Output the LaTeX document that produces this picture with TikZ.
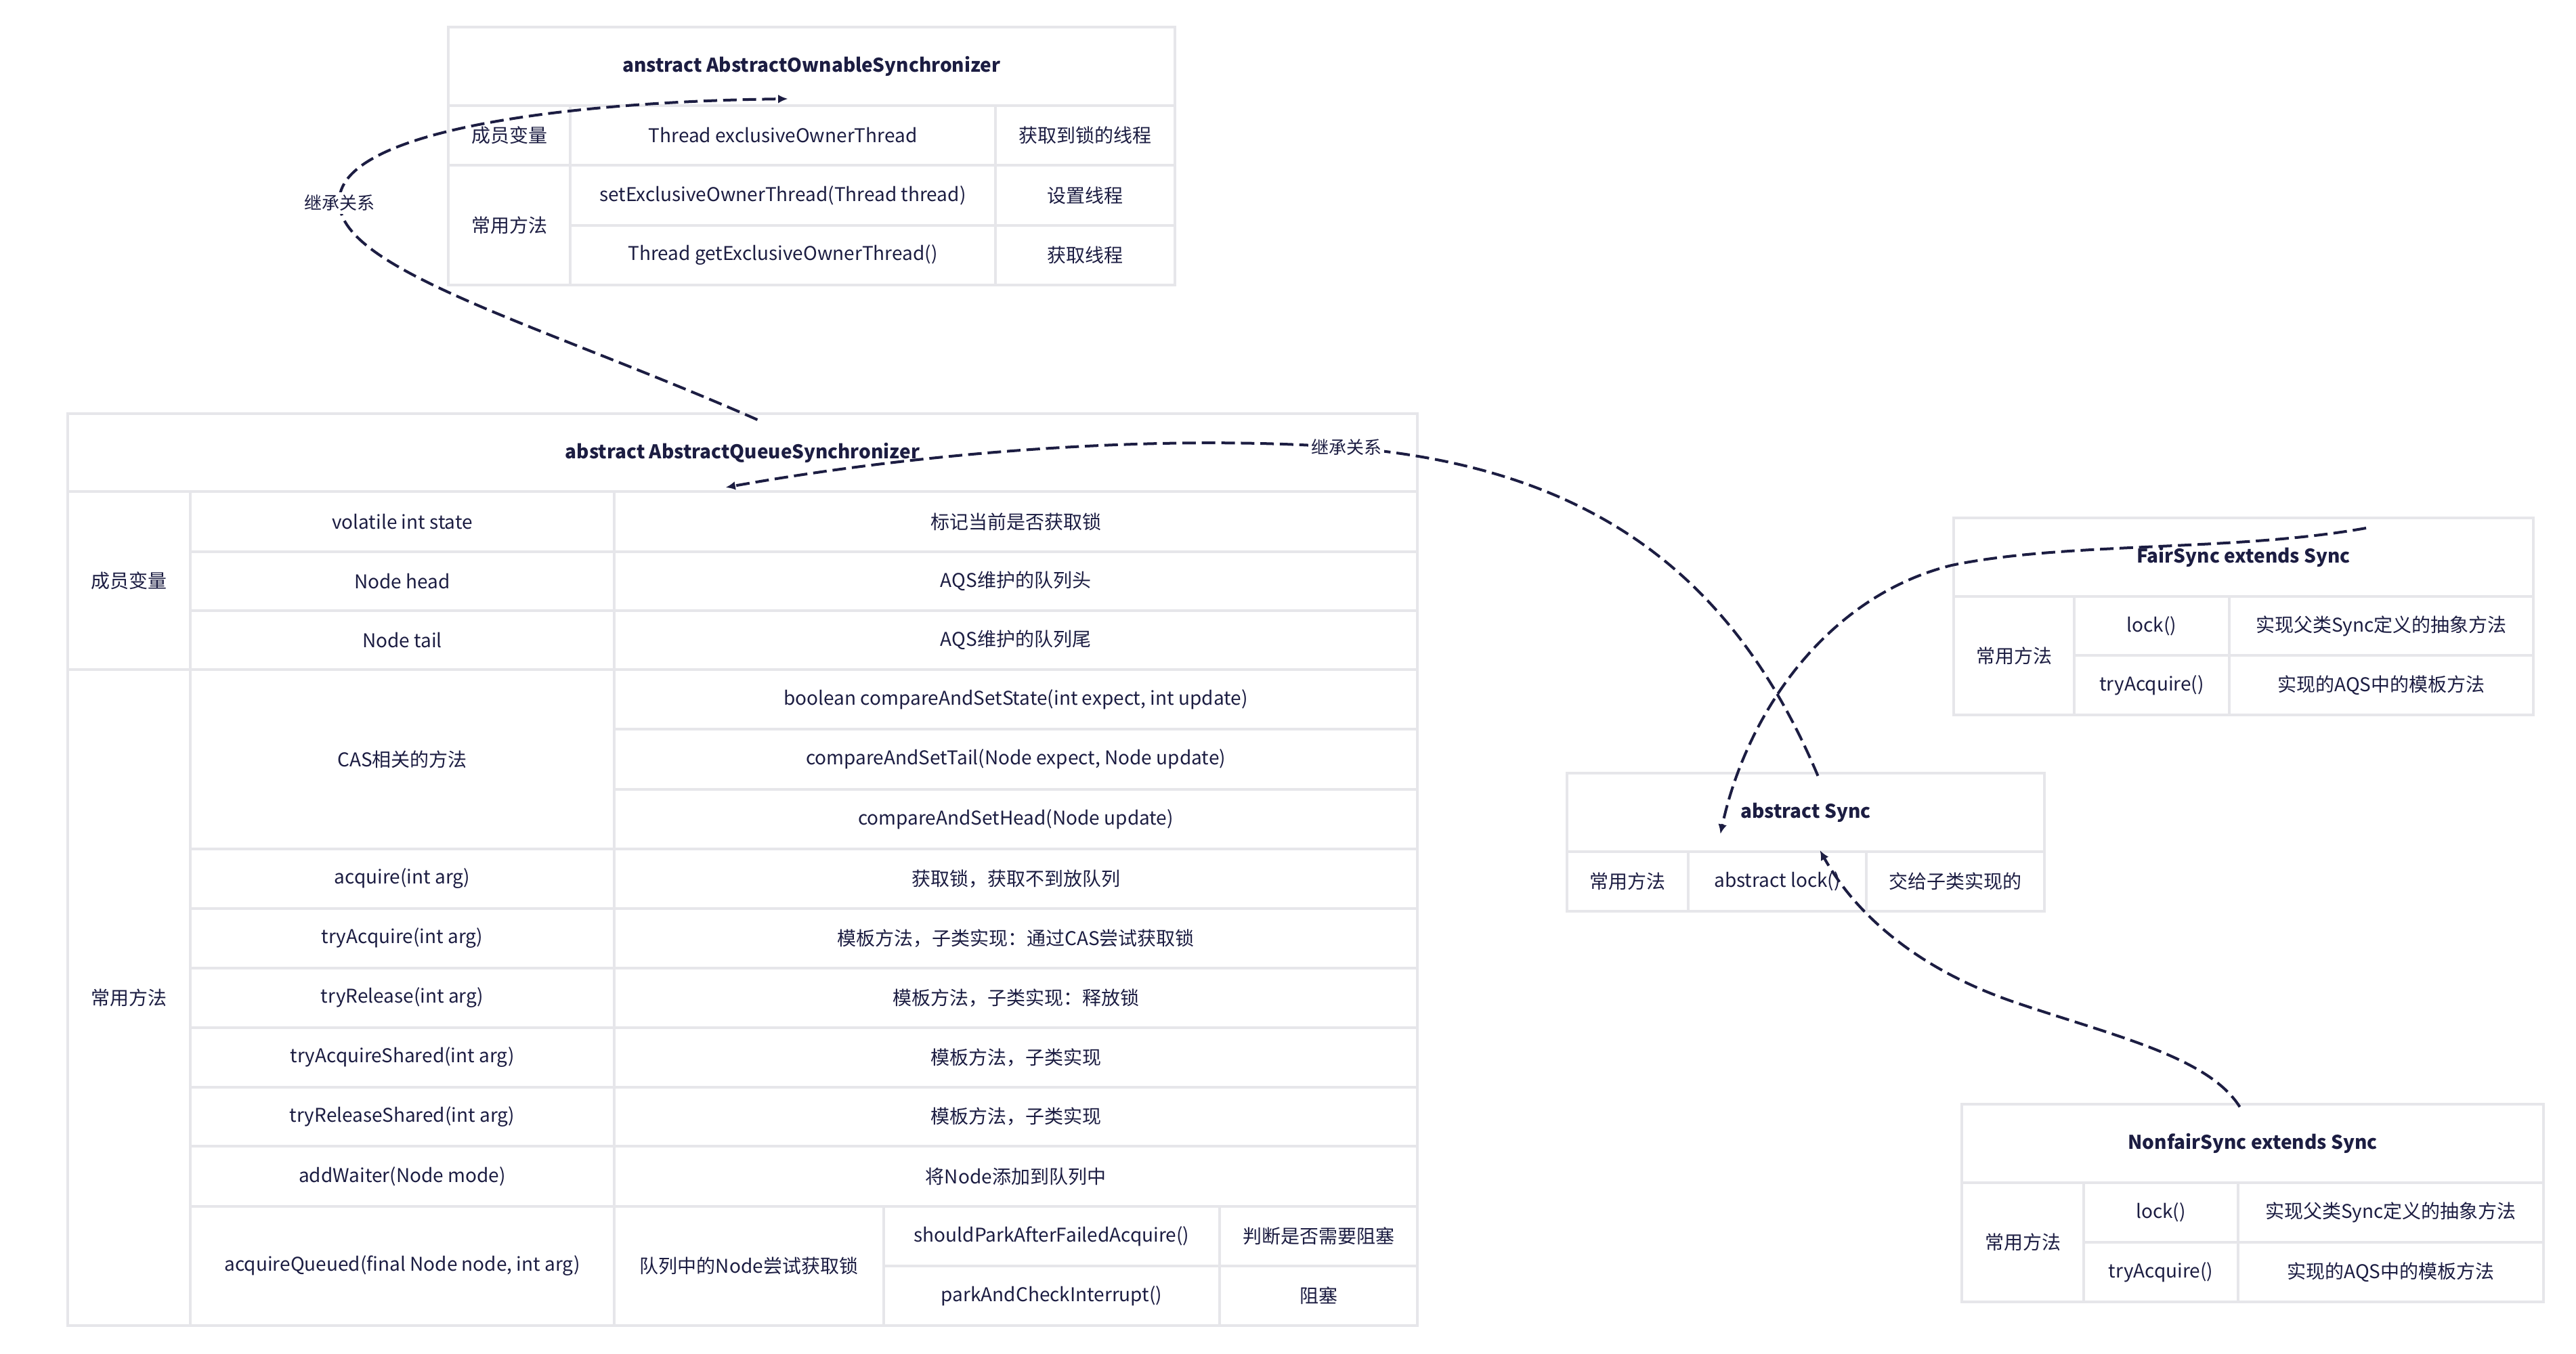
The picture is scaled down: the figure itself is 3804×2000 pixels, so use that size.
\documentclass[tikz,border=0pt]{standalone}
\usepackage{fontspec}
\setmainfont{Noto Sans CJK SC}
\usepackage{tikz}
\usetikzlibrary{
    calc,
    fit,
    arrows.meta
}
\definecolor{ink}{HTML}{1C1D42}
\definecolor{gridgray}{HTML}{E6E6EA}
\tikzset{
    % one cell of a class table
    cell/.style={
        draw=gridgray,
        line width=1pt,
        inner sep=0pt
    },
    celltext/.style={
        inner sep=0pt,
        anchor=center,
        text=ink,
        font=\fontsize{7}{8}\selectfont
    },
    headtext/.style={
        celltext,
        font=\fontsize{7}{8}\selectfont\bfseries
    },
    % dashed inheritance connector
    extends/.style={
        draw=ink,
        line width=1pt,
        dash pattern=on 5pt off 2.2pt,
        -{Latex[length=3.6pt, width=3.2pt]}
    },
    relname/.style={
        fill=white,
        text=ink,
        inner sep=1pt,
        font=\fontsize{6.5}{7}\selectfont
    }
}
% \cell[text style]{name}{corner}{corner}{text}
\newcommand{\cell}[5][celltext]{%
    \node[cell, fit={(#3) (#4)}] (#2) {};
    \node[#1] (#2t) at (#2.center) {#5};
}

\begin{document}
\begin{tikzpicture}[x=0.25pt, y=-0.25pt]
    \useasboundingbox (0,0) rectangle (3804,2000);

    % AbstractOwnableSynchronizer
    \cell[headtext]{aosh}{662,40}{1735,156}{anstract AbstractOwnableSynchronizer}
    \cell{aosm}{662,156}{842,244}{成员变量}
    \cell{aosm1}{842,156}{1470,244}{Thread exclusiveOwnerThread}
    \cell{aosm1d}{1470,156}{1735,244}{获取到锁的线程}
    \cell{aosc}{662,244}{842,421}{常用方法}
    \cell{aosc1}{842,244}{1470,333}{setExclusiveOwnerThread(Thread thread)}
    \cell{aosc1d}{1470,244}{1735,333}{设置线程}
    \cell{aosc2}{842,333}{1470,421}{Thread getExclusiveOwnerThread()}
    \cell{aosc2d}{1470,333}{1735,421}{获取线程}

    % AbstractQueueSynchronizer
    \cell[headtext]{aqsh}{100,611}{2093,726}{abstract AbstractQueueSynchronizer}
    \cell{aqsm}{100,726}{281,989}{成员变量}
    \cell{aqsm1}{281,726}{907,815}{volatile int state}
    \cell{aqsm1d}{907,726}{2093,815}{标记当前是否获取锁}
    \cell{aqsm2}{281,815}{907,902}{Node head}
    \cell{aqsm2d}{907,815}{2093,902}{AQS维护的队列头}
    \cell{aqsm3}{281,902}{907,989}{Node tail}
    \cell{aqsm3d}{907,902}{2093,989}{AQS维护的队列尾}
    \cell{aqsc}{100,989}{281,1958}{常用方法}
    \cell{aqscas}{281,989}{907,1254}{CAS相关的方法}
    \cell{aqscas1}{907,989}{2093,1077}{boolean compareAndSetState(int expect, int update)}
    \cell{aqscas2}{907,1077}{2093,1166}{compareAndSetTail(Node expect, Node update)}
    \cell{aqscas3}{907,1166}{2093,1254}{compareAndSetHead(Node update)}
    \foreach \t/\b/\m/\d [count=\i] in {
        1254/1342/acquire(int arg)/获取锁，获取不到放队列,
        1342/1430/tryAcquire(int arg)/模板方法，子类实现：通过CAS尝试获取锁,
        1430/1518/tryRelease(int arg)/模板方法，子类实现：释放锁,
        1518/1606/tryAcquireShared(int arg)/模板方法，子类实现,
        1606/1693/tryReleaseShared(int arg)/模板方法，子类实现,
        1693/1782/addWaiter(Node mode)/将Node添加到队列中} {
        \cell{aqsr\i}{281,\t}{907,\b}{\m}
        \cell{aqsr\i-d}{907,\t}{2093,\b}{\d}
    }
    \cell{aqsq}{281,1782}{907,1958}{acquireQueued(final Node node, int arg)}
    \cell{aqsqd}{907,1782}{1305,1958}{队列中的Node尝试获取锁}
    \cell{aqsq1}{1305,1782}{1801,1870}{shouldParkAfterFailedAcquire()}
    \cell{aqsq1d}{1801,1782}{2093,1870}{判断是否需要阻塞}
    \cell{aqsq2}{1305,1870}{1801,1958}{parkAndCheckInterrupt()}
    \cell{aqsq2d}{1801,1870}{2093,1958}{阻塞}

    % Sync and its subclasses
    \cell[headtext]{synch}{2314,1142}{3019,1258}{abstract Sync}
    \cell{syncc}{2314,1258}{2493,1346}{常用方法}
    \cell{syncc1}{2493,1258}{2756,1346}{abstract lock()}
    \cell{syncc1d}{2756,1258}{3019,1346}{交给子类实现的}

    \cell[headtext]{fairh}{2885,765}{3741,881}{FairSync extends Sync}
    \cell{fairc}{2885,881}{3063,1056}{常用方法}
    \cell{fairc1}{3063,881}{3292,968}{lock()}
    \cell{fairc1d}{3292,881}{3741,968}{实现父类Sync定义的抽象方法}
    \cell{fairc2}{3063,968}{3292,1056}{tryAcquire()}
    \cell{fairc2d}{3292,968}{3741,1056}{实现的AQS中的模板方法}

    \cell[headtext]{nfairh}{2897,1631}{3756,1747}{NonfairSync extends Sync}
    \cell{nfairc}{2897,1747}{3077,1923}{常用方法}
    \cell{nfairc1}{3077,1747}{3305,1835}{lock()}
    \cell{nfairc1d}{3305,1747}{3756,1835}{实现父类Sync定义的抽象方法}
    \cell{nfairc2}{3077,1835}{3305,1923}{tryAcquire()}
    \cell{nfairc2d}{3305,1835}{3756,1923}{实现的AQS中的模板方法}

    % inheritance
    \draw[extends] ($(aqsh.north)+(22,11)$)
        .. controls (800,480) and (505,400) .. (501,300) node[relname]{继承关系}
        .. controls (495,190) and (850,150) .. ($(aosh.south)+(-35,-12)$);
    \draw[extends] ($(synch.north)+(18,6)$)
        .. controls (2560,850) and (2350,690) .. (1988,661) node[relname]{继承关系}
        .. controls (1700,640) and (1350,670) .. ($(aqsh.south)+(-25,-8)$);
    \draw[extends] ($(fairh.north)+(181,17)$)
        .. controls (3300,815) and (3050,800) .. (2882,835)
        .. controls (2700,880) and (2580,1050) .. ($(synch.south)+(-126,-28)$);
    \draw[extends] ($(nfairh.north)+(-19,6)$)
        .. controls (3260,1560) and (3120,1530) .. (2971,1479)
        .. controls (2830,1430) and (2740,1350) .. ($(synch.south)+(21,-4)$);
\end{tikzpicture}
\end{document}
